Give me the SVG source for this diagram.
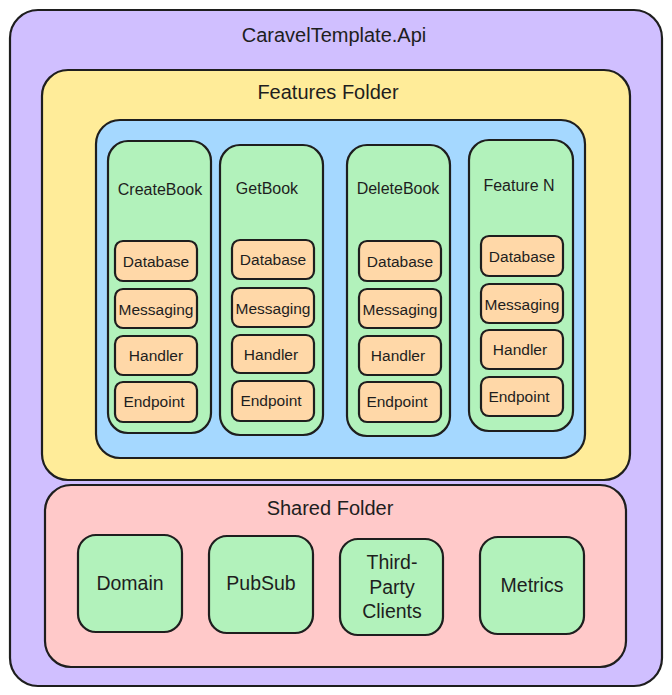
<svg xmlns="http://www.w3.org/2000/svg" width="672" height="695" viewBox="0 0 672 695">
<style>
.box{stroke:#1e1e1e;stroke-width:2.2;stroke-linejoin:round}
.purple{fill:#d0bfff}
.yellow{fill:#ffec99}
.blue{fill:#a5d8ff}
.green{fill:#b2f2bb}
.orange{fill:#ffd8a8}
.pink{fill:#ffc9c9}
text{font-family:"Liberation Sans","Noto Sans",sans-serif;fill:#1e1e1e;text-anchor:middle;dominant-baseline:central}
.t1{font-size:20px}
.t2{font-size:16px}
.t3{font-size:15.5px}
.t4{font-size:19.5px}
</style>
<rect width="672" height="695" fill="#ffffff"/>
<g id="api">
<rect class="box purple" x="10" y="10" width="652" height="676" rx="28"/>
<text class="t1" x="334" y="35">CaravelTemplate.Api</text>
</g>
<g id="features">
<rect class="box yellow" x="42" y="70" width="588" height="410" rx="26"/>
<text class="t1" x="328" y="92">Features Folder</text>
</g>
<g id="features-inner">
<rect class="box blue" x="96" y="120" width="489" height="338" rx="24"/>
</g>
<g id="createbook">
<rect class="box green" x="108" y="141" width="103" height="292" rx="20"/>
<text class="t2" x="160" y="189">CreateBook</text>
<g id="createbook-database"><rect class="box orange" x="115" y="241" width="82" height="40" rx="8"/><text class="t3" x="156" y="261">Database</text></g>
<g id="createbook-messaging"><rect class="box orange" x="115" y="289" width="82" height="39" rx="8"/><text class="t3" x="156" y="309">Messaging</text></g>
<g id="createbook-handler"><rect class="box orange" x="115" y="336" width="82" height="39" rx="8"/><text class="t3" x="156" y="355">Handler</text></g>
<g id="createbook-endpoint"><rect class="box orange" x="115" y="382" width="82" height="40" rx="8"/><text class="t3" x="154" y="401">Endpoint</text></g>
</g>
<g id="getbook">
<rect class="box green" x="220" y="145" width="103" height="290" rx="20"/>
<text class="t2" x="267" y="188">GetBook</text>
<g id="getbook-database"><rect class="box orange" x="232" y="240" width="82" height="39" rx="8"/><text class="t3" x="273" y="259">Database</text></g>
<g id="getbook-messaging"><rect class="box orange" x="232" y="288" width="82" height="39" rx="8"/><text class="t3" x="273" y="308">Messaging</text></g>
<g id="getbook-handler"><rect class="box orange" x="232" y="335" width="82" height="38" rx="8"/><text class="t3" x="271" y="354">Handler</text></g>
<g id="getbook-endpoint"><rect class="box orange" x="232" y="381" width="82" height="40" rx="8"/><text class="t3" x="271" y="400">Endpoint</text></g>
</g>
<g id="deletebook">
<rect class="box green" x="347" y="145" width="103" height="291" rx="20"/>
<text class="t2" x="398" y="188">DeleteBook</text>
<g id="deletebook-database"><rect class="box orange" x="359" y="241" width="82" height="40" rx="8"/><text class="t3" x="400" y="261">Database</text></g>
<g id="deletebook-messaging"><rect class="box orange" x="359" y="289" width="82" height="39" rx="8"/><text class="t3" x="400" y="309">Messaging</text></g>
<g id="deletebook-handler"><rect class="box orange" x="359" y="336" width="82" height="39" rx="8"/><text class="t3" x="398" y="355">Handler</text></g>
<g id="deletebook-endpoint"><rect class="box orange" x="359" y="382" width="82" height="40" rx="8"/><text class="t3" x="397" y="401">Endpoint</text></g>
</g>
<g id="featuren">
<rect class="box green" x="469" y="140" width="104" height="291" rx="20"/>
<text class="t2" x="519" y="185">Feature N</text>
<g id="featuren-database"><rect class="box orange" x="481" y="236" width="82" height="40" rx="8"/><text class="t3" x="522" y="256">Database</text></g>
<g id="featuren-messaging"><rect class="box orange" x="481" y="284" width="82" height="39" rx="8"/><text class="t3" x="522" y="304">Messaging</text></g>
<g id="featuren-handler"><rect class="box orange" x="481" y="330" width="82" height="39" rx="8"/><text class="t3" x="520" y="349">Handler</text></g>
<g id="featuren-endpoint"><rect class="box orange" x="481" y="377" width="82" height="39" rx="8"/><text class="t3" x="519" y="396">Endpoint</text></g>
</g>
<g id="shared">
<rect class="box pink" x="45" y="485" width="581" height="182" rx="26"/>
<text class="t1" x="330" y="508">Shared Folder</text>
</g>
<g id="domain"><rect class="box green" x="78" y="535" width="104" height="97" rx="18"/><text class="t4" x="130" y="583">Domain</text></g>
<g id="pubsub"><rect class="box green" x="209" y="536" width="104" height="97" rx="18"/><text class="t4" x="261" y="583">PubSub</text></g>
<g id="thirdparty"><rect class="box green" x="340" y="539" width="103" height="96" rx="18"/><text class="t4" x="392" y="562">Third-</text><text class="t4" x="392" y="587">Party</text><text class="t4" x="392" y="611">Clients</text></g>
<g id="metrics"><rect class="box green" x="480" y="537" width="104" height="97" rx="18"/><text class="t4" x="532" y="585">Metrics</text></g>
<g id="connectors"/>
</svg>
